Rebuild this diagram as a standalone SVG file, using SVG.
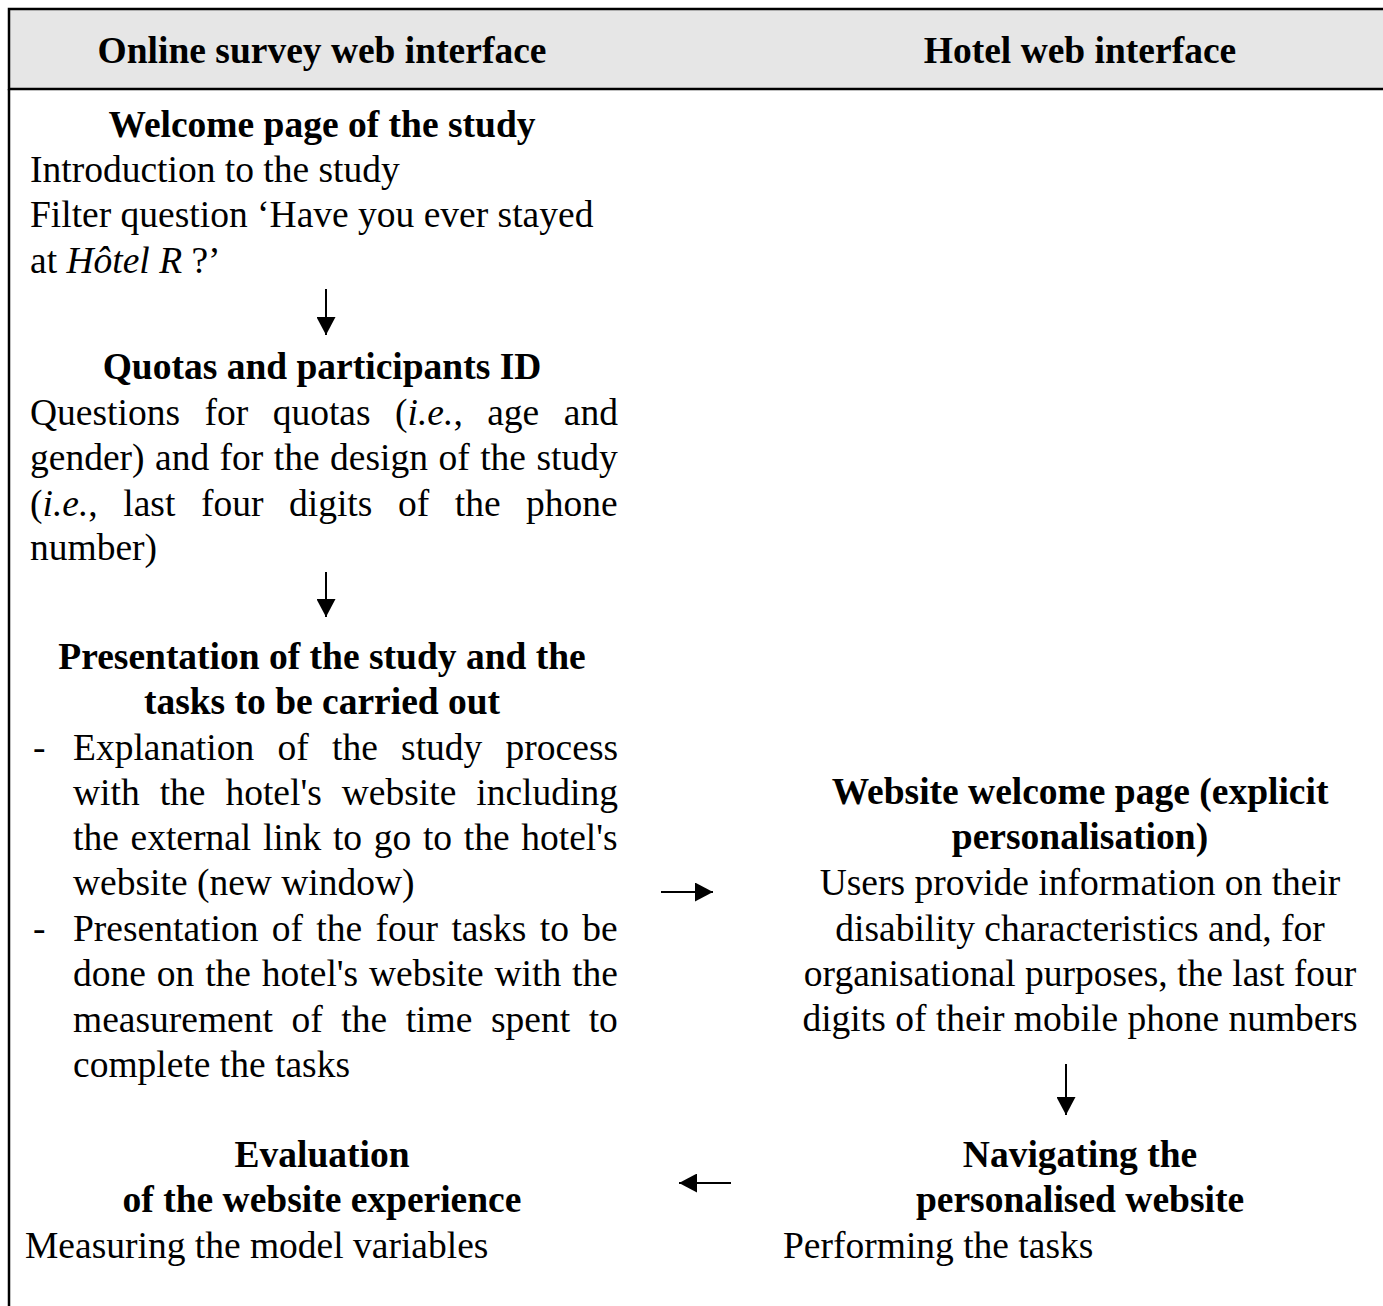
<svg xmlns="http://www.w3.org/2000/svg" width="1383" height="1306" viewBox="0 0 1383 1306">
<style>
text{font-family:"Liberation Serif","Times New Roman",serif;font-size:37.5px;fill:#000}
.b{font-weight:bold}
.c{text-anchor:middle}
.i{font-style:italic}
.conn line{stroke:#000;stroke-width:2;marker-end:url(#ah)}
</style>
<defs>
<marker id="ah" viewBox="0 0 18 19" refX="18" refY="9.5" markerWidth="18" markerHeight="19" markerUnits="userSpaceOnUse" orient="auto">
<path d="M0,0 L18,9.5 L0,19 z" fill="#000"/>
</marker>
</defs>
<rect width="1383" height="1306" fill="#fff"/>
<g id="frame">
<rect x="9" y="9" width="1400" height="80" fill="#e6e6e6" stroke="#000" stroke-width="2.5"/>
<line x1="9" y1="89" x2="9" y2="1306" stroke="#000" stroke-width="2.5"/>
</g>
<g id="header-left"><text class="b c" x="322" y="63">Online survey web interface</text></g>
<g id="header-right"><text class="b c" x="1080" y="63">Hotel web interface</text></g>
<g id="welcome">
<text class="b c" x="322" y="137">Welcome page of the study</text>
<text x="30" y="182">Introduction to the study</text>
<text x="30" y="227">Filter question ‘Have you ever stayed</text>
<text x="30" y="273">at <tspan class="i">Hôtel R</tspan> ?’</text>
</g>
<g id="quotas">
<text class="b c" x="322" y="379">Quotas and participants ID</text>
<text x="30" y="425" word-spacing="15.1">Questions for quotas (<tspan class="i">i.e.</tspan>, age and</text>
<text x="30" y="470" word-spacing="1.1">gender) and for the design of the study</text>
<text x="30" y="516" word-spacing="16.2">(<tspan class="i">i.e.</tspan>, last four digits of the phone</text>
<text x="30" y="560">number)</text>
</g>
<g id="presentation">
<text class="b c" x="322" y="669">Presentation of the study and the</text>
<text class="b c" x="322" y="714">tasks to be carried out</text>
<text x="33" y="760">-</text>
<text x="73" y="760" word-spacing="13.9">Explanation of the study process</text>
<text x="73" y="805" word-spacing="10.6">with the hotel's website including</text>
<text x="73" y="850" word-spacing="2.3">the external link to go to the hotel's</text>
<text x="73" y="895">website (new window)</text>
<text x="33" y="941">-</text>
<text x="73" y="941" word-spacing="4">Presentation of the four tasks to be</text>
<text x="73" y="986" word-spacing="1.5">done on the hotel's website with the</text>
<text x="73" y="1032" word-spacing="9.2">measurement of the time spent to</text>
<text x="73" y="1077">complete the tasks</text>
</g>
<g id="website-welcome">
<text class="b c" x="1080" y="804">Website welcome page (explicit</text>
<text class="b c" x="1080" y="849">personalisation)</text>
<text class="c" x="1080" y="895">Users provide information on their</text>
<text class="c" x="1080" y="941">disability characteristics and, for</text>
<text class="c" x="1080" y="986">organisational purposes, the last four</text>
<text class="c" x="1080" y="1031">digits of their mobile phone numbers</text>
</g>
<g id="navigating">
<text class="b c" x="1080" y="1167">Navigating the</text>
<text class="b c" x="1080" y="1212">personalised website</text>
<text x="783" y="1258">Performing the tasks</text>
</g>
<g id="evaluation">
<text class="b c" x="322" y="1167">Evaluation</text>
<text class="b c" x="322" y="1212">of the website experience</text>
<text x="25" y="1258">Measuring the model variables</text>
</g>
<g id="connectors" class="conn">
<line x1="326" y1="289" x2="326" y2="335"/>
<line x1="326" y1="572" x2="326" y2="617"/>
<line x1="661" y1="892" x2="713" y2="892"/>
<line x1="1066" y1="1064" x2="1066" y2="1115"/>
<line x1="731" y1="1183" x2="679" y2="1183"/>
</g>
</svg>
